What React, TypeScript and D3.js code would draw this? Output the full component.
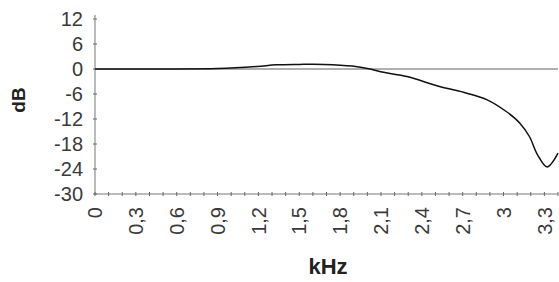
import React from "react";
import * as d3 from "d3";

const freqKHz = [0, 0.5, 0.9, 1.19, 1.33, 1.5, 1.68, 1.89, 2.02, 2.12, 2.29, 2.53, 2.73, 2.88, 3.02, 3.12, 3.19, 3.25, 3.32, 3.4];
const gainDB = [0, 0, 0.1, 0.6, 1.0, 1.1, 1.1, 0.7, 0, -0.8, -1.8, -4.2, -5.8, -7.4, -10.2, -13, -16.2, -20.6, -23.5, -20.2];
const refFreq = [0, 3.4];
const refDB = [0, 0];
const yTicks = [12, 6, 0, -6, -12, -18, -24, -30];
const xTicks = [0, 0.3, 0.6, 0.9, 1.2, 1.5, 1.8, 2.1, 2.4, 2.7, 3, 3.3];
const xMinorTicks = d3.range(0, 35).map((i) => i / 10);

export default function App() {
  const W = 559, H = 282;
  const x = d3.scaleLinear().domain([0, 3.4]).range([95, 558]);
  const y = d3.scaleLinear().domain([-30, 12]).range([194, 19]);
  const line = d3.line<number>().x((_, i) => x(freqKHz[i])).y((d) => y(d)).curve(d3.curveCatmullRom.alpha(0.5));
  const refLine = d3.line<number>().x((_, i) => x(refFreq[i])).y((d) => y(d));
  const fmt = (v: number) => String(Math.round(v * 10) / 10).replace(".", ",");
  const font = "'Liberation Sans', Arial, sans-serif";
  return (
    <svg width={W} height={H} style={{ position: "absolute", left: 0, top: 0, background: "#fff" }}>
      <line x1={x(0)} x2={x(0)} y1={y(12) - 4} y2={y(-30)} stroke="#777" strokeWidth={1} />
      <line x1={x(0)} x2={x(3.4)} y1={y(-30)} y2={y(-30)} stroke="#777" strokeWidth={1} />
      {yTicks.map((t) => (
        <g key={"y" + t}>
          <line x1={x(0) - 2} x2={x(0) + 2} y1={y(t)} y2={y(t)} stroke="#666" />
          <text x={83} y={y(t)} dy="0.36em" textAnchor="end" fontFamily={font} fontSize={20} fill="#3a3a3a">{String(t)}</text>
        </g>
      ))}
      {xMinorTicks.map((t) => (
        <line key={"m" + t} x1={x(t)} x2={x(t)} y1={y(-30) - 2} y2={y(-30) + 2} stroke="#666" />
      ))}
      {xTicks.map((t) => (
        <text key={"x" + t} transform={`translate(${x(t)},${207}) rotate(-90)`} textAnchor="end" dy="0.36em" fontFamily={font} fontSize={20} fill="#3a3a3a">{fmt(t)}</text>
      ))}
      <path d={refLine(refDB) || ""} fill="none" stroke="#b0b0b0" strokeWidth={2} />
      <path d={line(gainDB) || ""} fill="none" stroke="#111" strokeWidth={1.5} />
      <text transform={`translate(${25},${100}) rotate(-90)`} textAnchor="middle" fontFamily={font} fontSize={19} fontWeight="bold" fill="#222">dB</text>
      <text x={328} y={274} textAnchor="middle" fontFamily={font} fontSize={22} fontWeight="bold" fill="#222">kHz</text>
    </svg>
  );
}
